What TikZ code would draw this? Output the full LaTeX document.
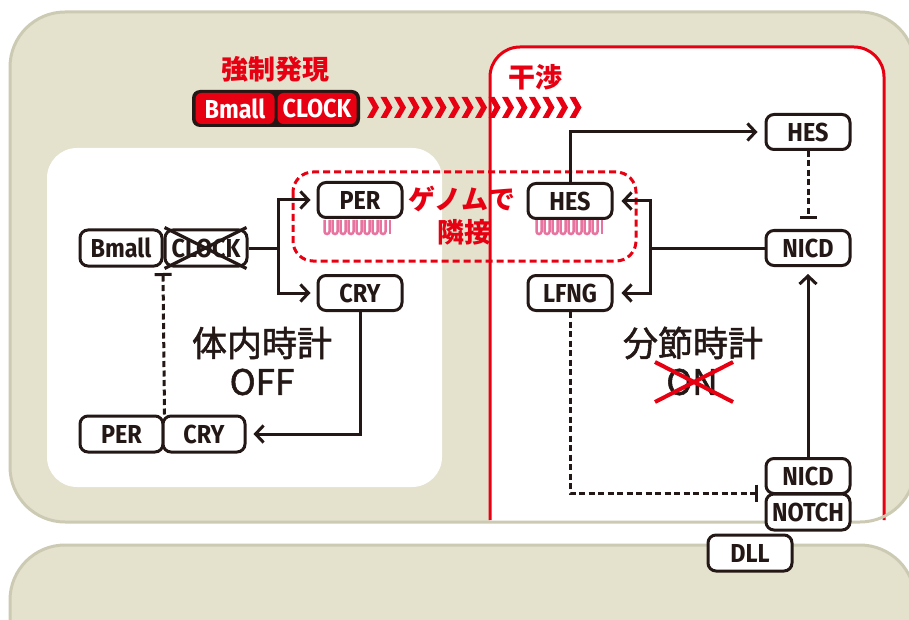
\documentclass[tikz,border=0pt]{standalone}
\usepackage{fontspec}
\usetikzlibrary{arrows.meta}
\newfontfamily\cond[FakeStretch=0.9]{Fira Sans}
\newfontfamily\jp{Noto Sans CJK JP}
\newfontfamily\jpm[FakeBold=1.5]{Noto Sans CJK JP}
\definecolor{beige}{HTML}{E4E1CD}
\definecolor{beigeline}{HTML}{CCCAB3}
\definecolor{jred}{HTML}{E60012}
\definecolor{dark}{HTML}{231815}
\definecolor{pink}{HTML}{E8739F}
\tikzset{
  gbox/.style={draw=dark, line width=3pt, rounded corners=8pt, fill=white,
    minimum width=84pt, minimum height=35pt, inner sep=0pt, text=dark,
    font=\cond\bfseries\fontsize{26}{26}\selectfont},
  rbox/.style={fill=jred, rounded corners=6pt, minimum width=79pt, minimum height=31pt,
    inner sep=0pt, text=white, font=\cond\bfseries\fontsize{26}{26}\selectfont},
  conn/.style={draw=dark, line width=3pt},
  arr/.style={conn, -{Straight Barb[length=8pt,width=17pt]}, shorten >=6pt},
  inh/.style={conn, dash pattern=on 6pt off 3.5pt, -{Bar[width=17pt]}},
  bigjp/.style={text=dark, font=\jpm\fontsize{35}{35}\selectfont},
  bigen/.style={text=dark, font=\jpm\fontsize{35}{35}\selectfont},
  redjp/.style={text=jred, font=\jp\bfseries\fontsize{27}{27}\selectfont},
  comb/.style={draw=pink, line width=2.5pt, rounded corners=2.5pt},
}
\begin{document}
\begin{tikzpicture}[x=1pt,y=-1pt]
\useasboundingbox (0,0) rectangle (909,620);
% panels
\fill[beige, rounded corners=55pt] (10,12) rectangle (915,522);
\fill[beige, rounded corners=55pt] (10,545) rectangle (915,700);
\fill[white, rounded corners=30pt] (47,148) rectangle (442,487);
\begin{scope}
  \clip[rounded corners=55pt] (10,12) rectangle (915,521);
  \fill[white, rounded corners=30pt] (490,47) rectangle (884,600);
\end{scope}
\draw[jred, line width=3pt, rounded corners=30pt] (490,520) -- (490,47) -- (884,47) -- (884,520);
\draw[beigeline, line width=3pt, rounded corners=55pt] (10,12) rectangle (915,522);
\draw[beigeline, line width=3pt, rounded corners=55pt] (10,545) rectangle (915,700);

% forced expression
\node[redjp] (kyosei) at (275,69) {強制発現};
\node[redjp] (kansho) at (535,77) {干渉};
\fill[dark, rounded corners=8pt] (192,90) rectangle (360,127);
\node[rbox] (bmr) at (235,108.5) {Bmall};
\node[rbox] (ckr) at (317,108.5) {CLOCK};
\foreach \i in {0,...,15} {
  \fill[jred] ({367+13.5*\i},97) -- ++(6,0) -- ++(6,10.5) -- ++(-6,10.5) -- ++(-6,0) -- ++(6,-10.5) -- cycle;
}

% genome adjacency box
\draw[jred, line width=3pt, dash pattern=on 7pt off 4pt, rounded corners=20pt] (293,172) rectangle (636,261);
\node[redjp] (genome) at (462,199) {ゲノムで};
\node[redjp] (rinsetsu) at (464,232) {隣接};

% combs
\foreach \x in {323,535} {
  \foreach \i in {0,...,7} {
    \draw[comb] ({\x+1.5+8*\i},220) -- ({\x+1.5+8*\i},234) -- ({\x+6.5+8*\i},234) -- ({\x+6.5+8*\i},220);
  }
  \draw[comb] ({\x+67},220) -- ({\x+67},234);
}

% left panel nodes
\node[gbox, minimum width=82pt, minimum height=36pt] (bm1) at (121,248) {Bmall};
\node[gbox, minimum width=82pt, minimum height=36pt] (ck1) at (206,248) {CLOCK};
\draw[dark, line width=3.3pt] ([shift={(1,-1)}]ck1.north west) -- ([shift={(-2,1)}]ck1.south east);
\draw[dark, line width=3.3pt] ([shift={(-2,-1)}]ck1.north east) -- ([shift={(1,1)}]ck1.south west);
\node[gbox] (per1) at (360,200) {PER};
\node[gbox] (cry1) at (360,293) {CRY};
\node[gbox, minimum width=83pt, minimum height=36pt] (per2) at (121.5,434) {PER};
\node[gbox, minimum width=82pt, minimum height=36pt] (cry2) at (204,434) {CRY};

\coordinate (j1) at (278,248);
\draw[conn] (ck1.east) -- (j1);
\draw[arr] (j1) |- (per1.west);
\draw[arr] (j1) |- (cry1.west);
\draw[arr, shorten >=7pt] (cry1.south) |- (cry2.east);
\coordinate (b1) at (163,273);
\draw[inh] (per2.north east) -- (b1);

\node[bigjp] (taiinai) at (262,343) {体内時計};
\node[bigen] (off) at (262,382) {OFF};

% right panel nodes
\node[gbox] (hes1) at (808,132) {HES};
\node[gbox] (nicd1) at (808,248) {NICD};
\node[gbox] (hes2) at (570,201) {HES};
\node[gbox] (lfng) at (570,293) {LFNG};
\node[gbox] (nicd2) at (808,476) {NICD};
\node[gbox, minimum height=36pt] (notch) at (808,512) {NOTCH};
\node[gbox, minimum height=36pt] (dll) at (750,553) {DLL};

\coordinate (j2) at (650,248);
\draw[conn] (nicd1.west) -- (j2);
\draw[arr, shorten >=8pt] (j2) |- (hes2.east);
\draw[arr, shorten >=8pt] (j2) |- (lfng.east);
\draw[arr, shorten >=7pt] (hes2.north) |- (hes1.west);
\draw[inh, shorten >=10pt] (hes1.south) -- (nicd1.north);
\draw[arr, shorten >=7pt] (nicd2.north) -- (nicd1.south);
\coordinate (b2) at (758,493);
\draw[inh] (lfng.south) |- (b2);

\node[bigjp] (bunsetsu) at (693,343) {分節時計};
\node[bigen] (on) at (692,382) {ON};
\draw[jred, line width=4pt] (655,362) -- (733,402);
\draw[jred, line width=4pt] (655,402) -- (733,362);
\end{tikzpicture}
\end{document}
